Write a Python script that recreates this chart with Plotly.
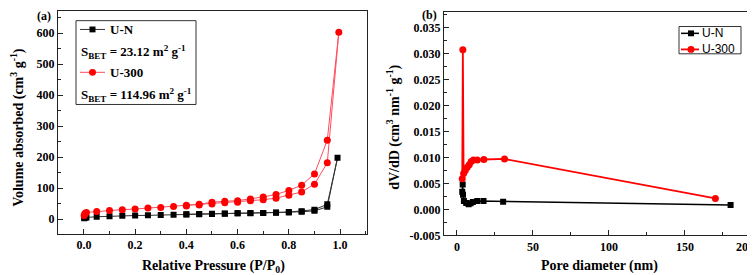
import plotly.graph_objects as go

W, H = 755, 275

# ---------------- data: panel (a) N2 isotherms ----------------
un_p = [0.001, 0.005, 0.01, 0.05, 0.1, 0.15, 0.2, 0.25, 0.3, 0.35, 0.4, 0.45, 0.5, 0.55,
        0.6, 0.65, 0.7, 0.75, 0.8, 0.85, 0.9, 0.95, 0.99,
        0.95, 0.9, 0.85, 0.8, 0.75, 0.7, 0.65, 0.6, 0.55, 0.5, 0.45, 0.4]
un_v = [3, 5, 6, 8, 10, 11, 12, 12.5, 13.5, 14.5, 15.5, 16, 17, 18,
        19, 19.5, 20, 21, 22, 24, 27, 40, 198,
        48, 31, 26, 23, 21.5, 20.5, 20, 19.5, 18.5, 17.5, 16.5, 16]

u300_p = [0.001, 0.003, 0.005, 0.01, 0.05, 0.1, 0.15, 0.2, 0.25, 0.3, 0.35, 0.4, 0.45, 0.5,
          0.55, 0.6, 0.65, 0.7, 0.75, 0.8, 0.85, 0.9, 0.95, 0.995,
          0.95, 0.9, 0.85, 0.8, 0.75, 0.7, 0.65, 0.6, 0.55, 0.5, 0.45, 0.4]
u300_v = [12, 16, 19, 22, 25, 28, 31, 33, 36, 38, 41, 43, 46, 49,
          53, 55, 60, 63, 68, 77, 88, 113, 182, 603,
          255, 146, 110, 93, 80, 72, 65, 60, 58, 55, 48, 45]

# ---------------- data: panel (b) BJH pore size distribution ----------------
un_d = [180, 30.4, 17.5, 13.4, 10.5, 9.0, 7.7, 6.1, 4.6, 4.0, 3.8, 3.5]
un_dv = [0.00082, 0.00145, 0.0016, 0.0016, 0.0014, 0.0012, 0.0010, 0.00125, 0.0016,
         0.0028, 0.0048, 0.0034]

u300_d = [170, 31.3, 17.7, 13.4, 10.9, 9.4, 8.1, 6.8, 5.5, 4.4, 3.9, 3.5]
u300_dv = [0.0021, 0.0097, 0.0096, 0.0095, 0.0095, 0.0092, 0.0086, 0.0081, 0.0075,
           0.0069, 0.0307, 0.0059]

a_xticks = [0.0, 0.2, 0.4, 0.6, 0.8, 1.0]
a_xlabels = ["0.0", "0.2", "0.4", "0.6", "0.8", "1.0"]
a_yticks = [0, 100, 200, 300, 400, 500, 600]
b_xticks = [0, 50, 100, 150]
b_yticks = [-0.005, 0.0, 0.005, 0.010, 0.015, 0.020, 0.025, 0.030, 0.035]
b_ylabels = ["-0.005", "0.000", "0.005", "0.010", "0.015", "0.020", "0.025", "0.030", "0.035"]

SERIF = "Liberation Serif"
SANS = "Liberation Sans"
RED = "#ff0000"


def px(x):
    return x / W


def py(y):
    return 1 - y / H


fig = go.Figure()

fig.add_trace(go.Scatter(x=un_p, y=un_v, mode="lines+markers", xaxis="x", yaxis="y",
                         line=dict(color="#333333", width=1),
                         marker=dict(symbol="square", size=6, color="black"),
                         showlegend=False))
fig.add_trace(go.Scatter(x=u300_p, y=u300_v, mode="lines+markers", xaxis="x", yaxis="y",
                         line=dict(color="#ff4d5e", width=1),
                         marker=dict(symbol="circle", size=7, color=RED),
                         showlegend=False))
fig.add_trace(go.Scatter(x=un_d, y=un_dv, mode="lines+markers", xaxis="x2", yaxis="y2",
                         line=dict(color="black", width=1.5),
                         marker=dict(symbol="square", size=6, color="black"),
                         showlegend=False))
fig.add_trace(go.Scatter(x=u300_d, y=u300_dv, mode="lines+markers", xaxis="x2", yaxis="y2",
                         line=dict(color=RED, width=1.8),
                         marker=dict(symbol="circle", size=7, color=RED),
                         showlegend=False))

tickfont = dict(family=SERIF, size=12, color="black", weight="bold")
axis_common = dict(showline=True, linecolor="#222222", linewidth=1.2, mirror=True,
                   ticks="inside", ticklen=5, tickwidth=1, tickcolor="#222222",
                   showgrid=False, zeroline=False, tickfont=tickfont)

fig.update_layout(
    width=W, height=H,
    margin=dict(l=0, r=0, t=0, b=0),
    paper_bgcolor="white", plot_bgcolor="white",
    xaxis=dict(domain=[px(50), px(359)], range=[-0.101, 1.105], anchor="y",
               tickvals=a_xticks, ticktext=a_xlabels,
               minor=dict(dtick=0.1, tick0=0, ticks="inside", ticklen=3, tickcolor="#222222"),
               **axis_common),
    yaxis=dict(domain=[py(231.7), py(3.3)], range=[-47, 671], anchor="x",
               tickvals=a_yticks,
               minor=dict(dtick=50, tick0=0, ticks="inside", ticklen=3, tickcolor="#222222"),
               **axis_common),
    xaxis2=dict(domain=[px(436), px(746)], range=[-8.5, 195.4], anchor="y2",
                tickvals=b_xticks,
                minor=dict(dtick=25, tick0=0, ticks="inside", ticklen=3, tickcolor="#222222"),
                **axis_common),
    yaxis2=dict(domain=[py(233.3), py(4)], range=[-0.005, 0.038], anchor="x2",
                tickvals=b_yticks, ticktext=b_ylabels,
                minor=dict(dtick=0.0025, tick0=0, ticks="inside", ticklen=3, tickcolor="#222222"),
                **axis_common),
)

ann = []
title_font = dict(family=SERIF, size=14, color="black", weight="bold")


def add_text(text, x, y, font, xanchor="center", yanchor="middle", angle=0):
    ann.append(dict(text=text, x=px(x), y=py(y), xref="paper", yref="paper",
                    xanchor=xanchor, yanchor=yanchor, showarrow=False, font=font,
                    textangle=angle))


add_text("Relative Pressure (P/P<sub>0</sub>)", 205, 265, title_font)
add_text("Volume absorbed (cm<sup>3</sup> g<sup>-1</sup>)", 10, 123, title_font, angle=-90)
add_text("Pore diameter (nm)", 591, 265, title_font)
add_text("dV/dD (cm<sup>3</sup> nm<sup>-1</sup> g<sup>-1</sup>)", 386, 123, title_font, angle=-90)
add_text("(a)", 36, 8, dict(family=SERIF, size=12, color="black", weight="bold"))
add_text("(b)", 422, 7, dict(family=SERIF, size=12, color="black", weight="bold"))
add_text("200", 748, 245, tickfont, xanchor="right")

# legend (a)
leg_font = dict(family=SERIF, size=13, color="black", weight="bold")
add_text("U-N", 100, 22, leg_font, xanchor="left")
add_text("S<sub>BET</sub> = 23.12 m<sup>2</sup> g<sup>-1</sup>", 71, 45, leg_font, xanchor="left")
add_text("U-300", 100, 66, leg_font, xanchor="left")
add_text("S<sub>BET</sub> = 114.96 m<sup>2</sup> g<sup>-1</sup>", 71, 89, leg_font, xanchor="left")

# legend (b)
legb_font = dict(family=SANS, size=12, color="black")
add_text("U-N", 692, 26, legb_font, xanchor="left")
add_text("U-300", 692, 42.5, legb_font, xanchor="left")

fig.update_layout(annotations=ann)

shapes = []


def rect(x0, y0, x1, y1, line_color, fill=None, lw=1):
    shapes.append(dict(type="rect", xref="paper", yref="paper",
                       x0=px(x0), x1=px(x1), y0=py(y1), y1=py(y0),
                       line=dict(color=line_color, width=lw),
                       fillcolor=fill if fill else "rgba(0,0,0,0)"))


def hline(x0, x1, y, color, lw):
    shapes.append(dict(type="line", xref="paper", yref="paper",
                       x0=px(x0), x1=px(x1), y0=py(y), y1=py(y),
                       line=dict(color=color, width=lw)))


def circle(cx, cy, r, color):
    shapes.append(dict(type="circle", xref="paper", yref="paper",
                       x0=px(cx - r), x1=px(cx + r), y0=py(cy + r), y1=py(cy - r),
                       line=dict(color=color, width=0), fillcolor=color))


rect(68, 13, 188, 99, "#333333", lw=1)
hline(72, 97, 22, "#333333", 1)
rect(81.5, 19, 87.5, 25, "black", fill="black", lw=0)
hline(72, 97, 66, "#ff4d5e", 1)
circle(84.5, 66, 3.5, RED)

rect(671, 19, 733, 47, "#333333", lw=1)
hline(673, 691, 26, "black", 1.5)
rect(680, 23, 686, 29, "black", fill="black", lw=0)
hline(673, 691, 42.5, RED, 1.8)
circle(683, 42.5, 3.5, RED)

fig.update_layout(shapes=shapes)

fig.write_html("out.html")
